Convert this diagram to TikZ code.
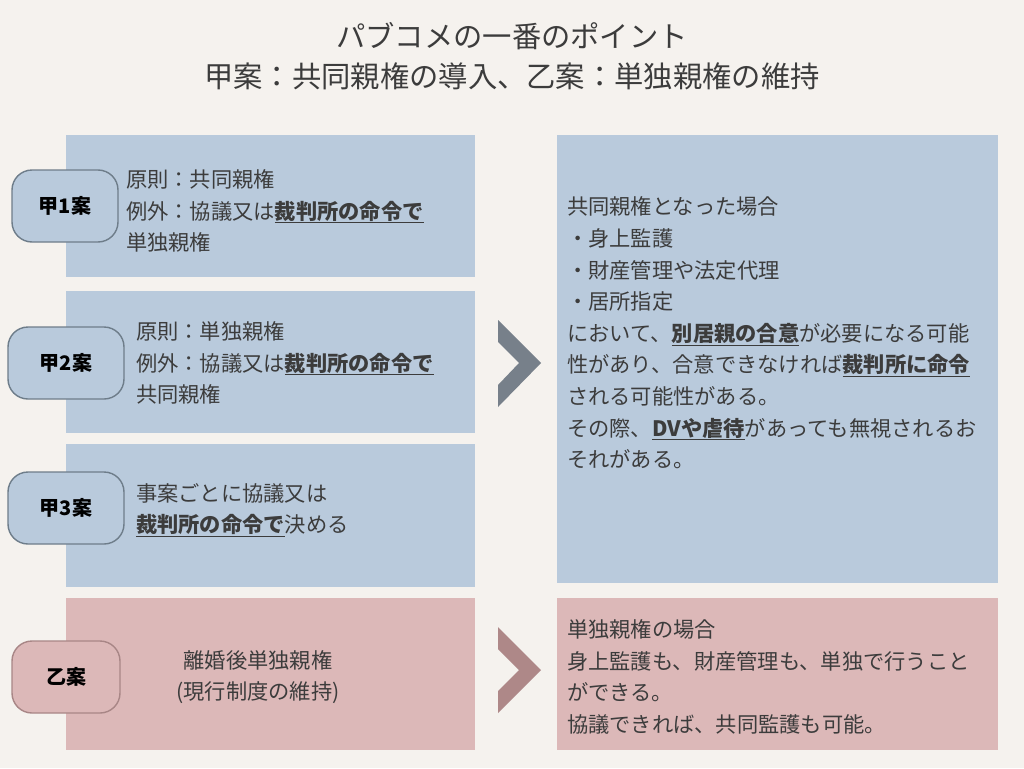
\documentclass[tikz,border=0pt]{standalone}
\usepackage{fontspec}
\setmainfont{Noto Sans CJK JP}
\definecolor{paper}{HTML}{F5F2EE}
\definecolor{kouBlue}{HTML}{B9CADC}
\definecolor{otsuPink}{HTML}{DCB8B8}
\definecolor{blueEdge}{HTML}{6E7D8A}
\definecolor{pinkEdge}{HTML}{A88686}
\definecolor{arrowGray}{HTML}{77808A}
\definecolor{arrowPink}{HTML}{AE8888}
\definecolor{ink}{HTML}{3C3C3C}
\newcommand{\keyword}[1]{\underline{\textbf{#1}}}

\begin{document}
\begin{tikzpicture}[x=1pt, y=-1pt,
        plan/.style = {anchor=north west, inner sep=0pt, fill=#1},
        tag/.style = {draw=#1, line width=1.4pt, rounded corners=20pt, minimum height=72pt,
                      font=\fontsize{20}{24}\bfseries, text=black},
        body/.style = {anchor=west, align=left, inner sep=0pt, text=ink, font=\fontsize{21.25}{31.6}\selectfont},
        ]
        \useasboundingbox (0,0) rectangle (1024,768);
        \fill[paper] (0,0) rectangle (1024,768);

        \node [align=center, text=ink, font=\fontsize{29.3}{40}\selectfont] (title) at (512,56)
            {パブコメの一番のポイント\\甲案：共同親権の導入、乙案：単独親権の維持};

        % left side: plans
        \node [plan=kouBlue, minimum width=409pt, minimum height=142pt] (kou1) at (66,135) {};
        \node [plan=kouBlue, minimum width=409pt, minimum height=142pt] (kou2) at (66,291) {};
        \node [plan=kouBlue, minimum width=409pt, minimum height=143pt] (kou3) at (66,444) {};
        \node [plan=otsuPink, minimum width=409pt, minimum height=152pt] (otsu) at (66,598) {};

        \node [tag=blueEdge, fill=kouBlue, minimum width=106pt] (kou1tag) at (65,206) {甲1案};
        \node [tag=blueEdge, fill=kouBlue, minimum width=116pt] (kou2tag) at (66,363) {甲2案};
        \node [tag=blueEdge, fill=kouBlue, minimum width=116pt] (kou3tag) at (66,508) {甲3案};
        \node [tag=pinkEdge, fill=otsuPink, minimum width=108pt] (otsutag) at (66,677) {乙案};

        \node [body] (kou1text) at (126,211)
            {原則：共同親権\\例外：協議又は\keyword{裁判所の命令で}\\単独親権};
        \node [body] (kou2text) at (136,363)
            {原則：単独親権\\例外：協議又は\keyword{裁判所の命令で}\\共同親権};
        \node [body] (kou3text) at (136,510)
            {事案ごとに協議又は\\\keyword{裁判所の命令で}決める};
        \node [body, anchor=center, align=center] (otsutext) at (258,677)
            {離婚後単独親権\\(現行制度の維持)};

        % right side: results
        \node [plan=kouBlue, minimum width=441pt, minimum height=448pt] (joint) at (557,135) {};
        \node [plan=otsuPink, minimum width=441pt, minimum height=152pt] (sole) at (557,598) {};

        \node [body] (jointtext) at (567,333)
            {共同親権となった場合\\・身上監護\\・財産管理や法定代理\\・居所指定\\
             において、\keyword{別居親の合意}が必要になる可能\\
             性があり、合意できなければ\keyword{裁判所に命令}\\
             される可能性がある。\\
             その際、\keyword{DVや虐待}があっても無視されるお\\
             それがある。};
        \node [body] (soletext) at (567,677)
            {単独親権の場合\\身上監護も、財産管理も、単独で行うこと\\ができる。\\協議できれば、共同監護も可能。};

        % chevrons
        \fill[arrowGray] (498,320) -- (541,363) -- (498,407) -- (498,385) -- (519,363) -- (498,342) -- cycle;
        \fill[arrowPink] (498,627) -- (541,670) -- (498,713) -- (498,691) -- (519,670) -- (498,649) -- cycle;
    \end{tikzpicture}
\end{document}
